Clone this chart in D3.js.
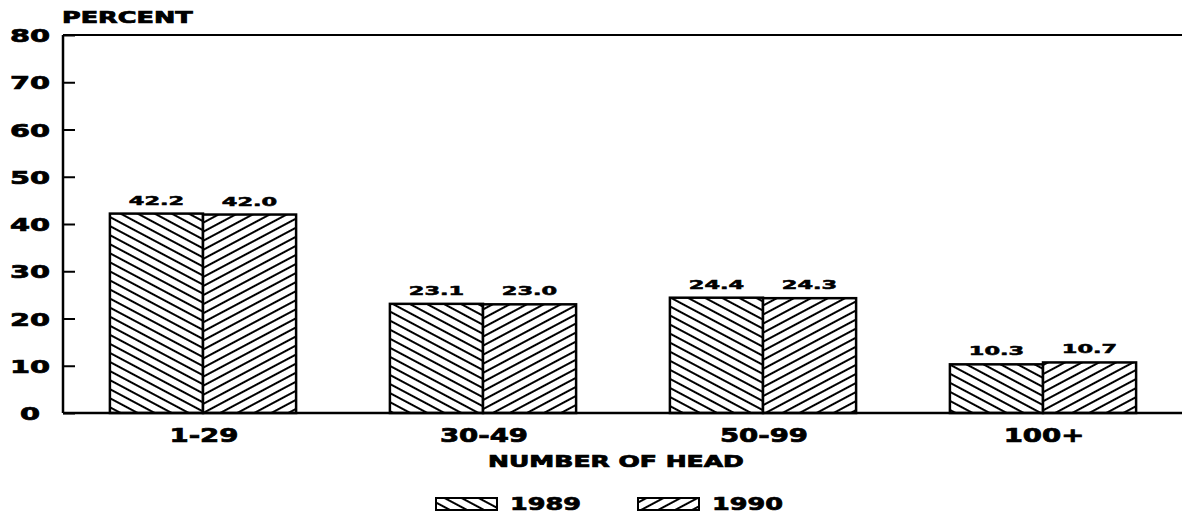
<!doctype html>
<html>
<head>
<meta charset="utf-8"/>
<title>Number of head</title>
<script src="https://d3js.org/d3.v7.min.js"></script>
<style>
  body { margin: 0; background: #fff; }
  text { font-family: "DejaVu Sans", sans-serif; font-weight: bold; fill: #000; stroke: #000; stroke-width: 0.7px; }
</style>
</head>
<body>
<div id="chart"></div>
<script>
  // data
  var categories = ["1-29", "30-49", "50-99", "100+"];
  var years = ["1989", "1990"];
  var values1989 = [42.2, 23.1, 24.4, 10.3];
  var values1990 = [42.0, 23.0, 24.3, 10.7];
  var yTicks = [0, 10, 20, 30, 40, 50, 60, 70, 80];

  var W = 1182, H = 528;
  var plotL = 63, plotR = 1183, plotT = 35, plotB = 413;

  var svg = d3.select("#chart").append("svg")
      .attr("width", W)
      .attr("height", H);

  // hatch patterns: 1989 "\\\", 1990 "///"
  var defs = svg.append("defs");
  function hatch(id, angle) {
    var p = defs.append("pattern")
        .attr("id", id)
        .attr("patternUnits", "userSpaceOnUse")
        .attr("width", 40)
        .attr("height", 8)
        .attr("patternTransform", "rotate(" + angle + ")");
    p.append("rect").attr("width", 40).attr("height", 8).attr("fill", "#fff");
    p.append("line")
        .attr("x1", 0).attr("x2", 40)
        .attr("y1", 4).attr("y2", 4)
        .attr("stroke", "#000")
        .attr("stroke-width", 2);
  }
  hatch("h1989", 28);
  hatch("h1990", -28);
  var fills = { "1989": "url(#h1989)", "1990": "url(#h1990)" };

  var x = d3.scaleBand()
      .domain(categories)
      .range([plotL, plotR])
      .paddingInner(0.335)
      .paddingOuter(0.1675);

  var xs = d3.scaleBand()
      .domain(years)
      .range([0, x.bandwidth()]);

  var y = d3.scaleLinear()
      .domain([0, 80])
      .range([plotB, plotT]);

  // stretch text sideways, the original type is an extended face
  function widen(sel, k) {
    sel.each(function() {
      var w = this.getComputedTextLength();
      d3.select(this)
        .attr("textLength", w * k)
        .attr("lengthAdjust", "spacingAndGlyphs");
    });
  }

  // y axis, ticks pointing inwards
  var yAxis = svg.append("g")
      .attr("transform", "translate(" + plotL + ",0)")
      .call(d3.axisRight(y).tickValues(yTicks).tickSize(12).tickFormat(""));
  yAxis.select(".domain").remove();
  yAxis.selectAll(".tick line").attr("stroke", "#000").attr("stroke-width", 2);

  svg.append("g").selectAll("text")
    .data(yTicks)
    .join("text")
      .attr("x", 30)
      .attr("y", function(d) { return y(d) + 7; })
      .attr("text-anchor", "middle")
      .style("font-size", "18px")
      .text(function(d) { return d; })
      .call(widen, 1.6);

  // frame lines
  svg.append("line")
      .attr("x1", plotL).attr("x2", W)
      .attr("y1", plotT).attr("y2", plotT)
      .attr("stroke", "#000").attr("stroke-width", 2);
  svg.append("line")
      .attr("x1", plotL).attr("x2", plotL)
      .attr("y1", plotT).attr("y2", plotB)
      .attr("stroke", "#000").attr("stroke-width", 2.5);

  var rows = [];
  categories.forEach(function(c, i) {
    rows.push({ cat: c, year: "1989", value: values1989[i] });
    rows.push({ cat: c, year: "1990", value: values1990[i] });
  });

  svg.append("g").selectAll("rect")
    .data(rows)
    .join("rect")
      .attr("x", function(d) { return x(d.cat) + xs(d.year); })
      .attr("y", function(d) { return y(d.value); })
      .attr("width", xs.bandwidth())
      .attr("height", function(d) { return plotB - y(d.value); })
      .attr("fill", function(d) { return fills[d.year]; })
      .attr("stroke", "#000")
      .attr("stroke-width", 2.5);

  svg.append("g").selectAll("text")
    .data(rows)
    .join("text")
      .attr("x", function(d) { return x(d.cat) + xs(d.year) + xs.bandwidth() / 2; })
      .attr("y", function(d) { return y(d.value) - 9; })
      .attr("text-anchor", "middle")
      .style("font-size", "11.5px")
      .style("stroke-width", "0.5px")
      .text(function(d) { return d.value.toFixed(1); })
      .call(widen, 1.95);

  // baseline
  svg.append("line")
      .attr("x1", plotL).attr("x2", W)
      .attr("y1", plotB).attr("y2", plotB)
      .attr("stroke", "#000").attr("stroke-width", 2.5);

  // category labels
  svg.append("g").selectAll("text")
    .data(categories)
    .join("text")
      .attr("x", function(d) { return x(d) + x.bandwidth() / 2 + 1; })
      .attr("y", 442)
      .attr("text-anchor", "middle")
      .style("font-size", "19px")
      .text(function(d) { return d; })
      .call(widen, 1.45);

  svg.append("text")
      .attr("x", 616)
      .attr("y", 467)
      .attr("text-anchor", "middle")
      .style("font-size", "15px")
      .text("NUMBER OF HEAD")
      .call(widen, 1.67);

  svg.append("text")
      .attr("x", 62)
      .attr("y", 23)
      .attr("text-anchor", "start")
      .style("font-size", "15px")
      .text("PERCENT")
      .call(widen, 1.7);

  // legend
  var legend = svg.append("g").selectAll("g")
    .data(years)
    .join("g")
      .attr("transform", function(d, i) { return "translate(" + (436 + i * 202) + ",498)"; });
  legend.append("rect")
      .attr("width", 61)
      .attr("height", 12)
      .attr("fill", function(d) { return fills[d]; })
      .attr("stroke", "#000")
      .attr("stroke-width", 2);
  legend.append("text")
      .attr("x", 74)
      .attr("y", 12)
      .style("font-size", "17px")
      .text(function(d) { return d; })
      .call(widen, 1.5);
</script>
</body>
</html>
